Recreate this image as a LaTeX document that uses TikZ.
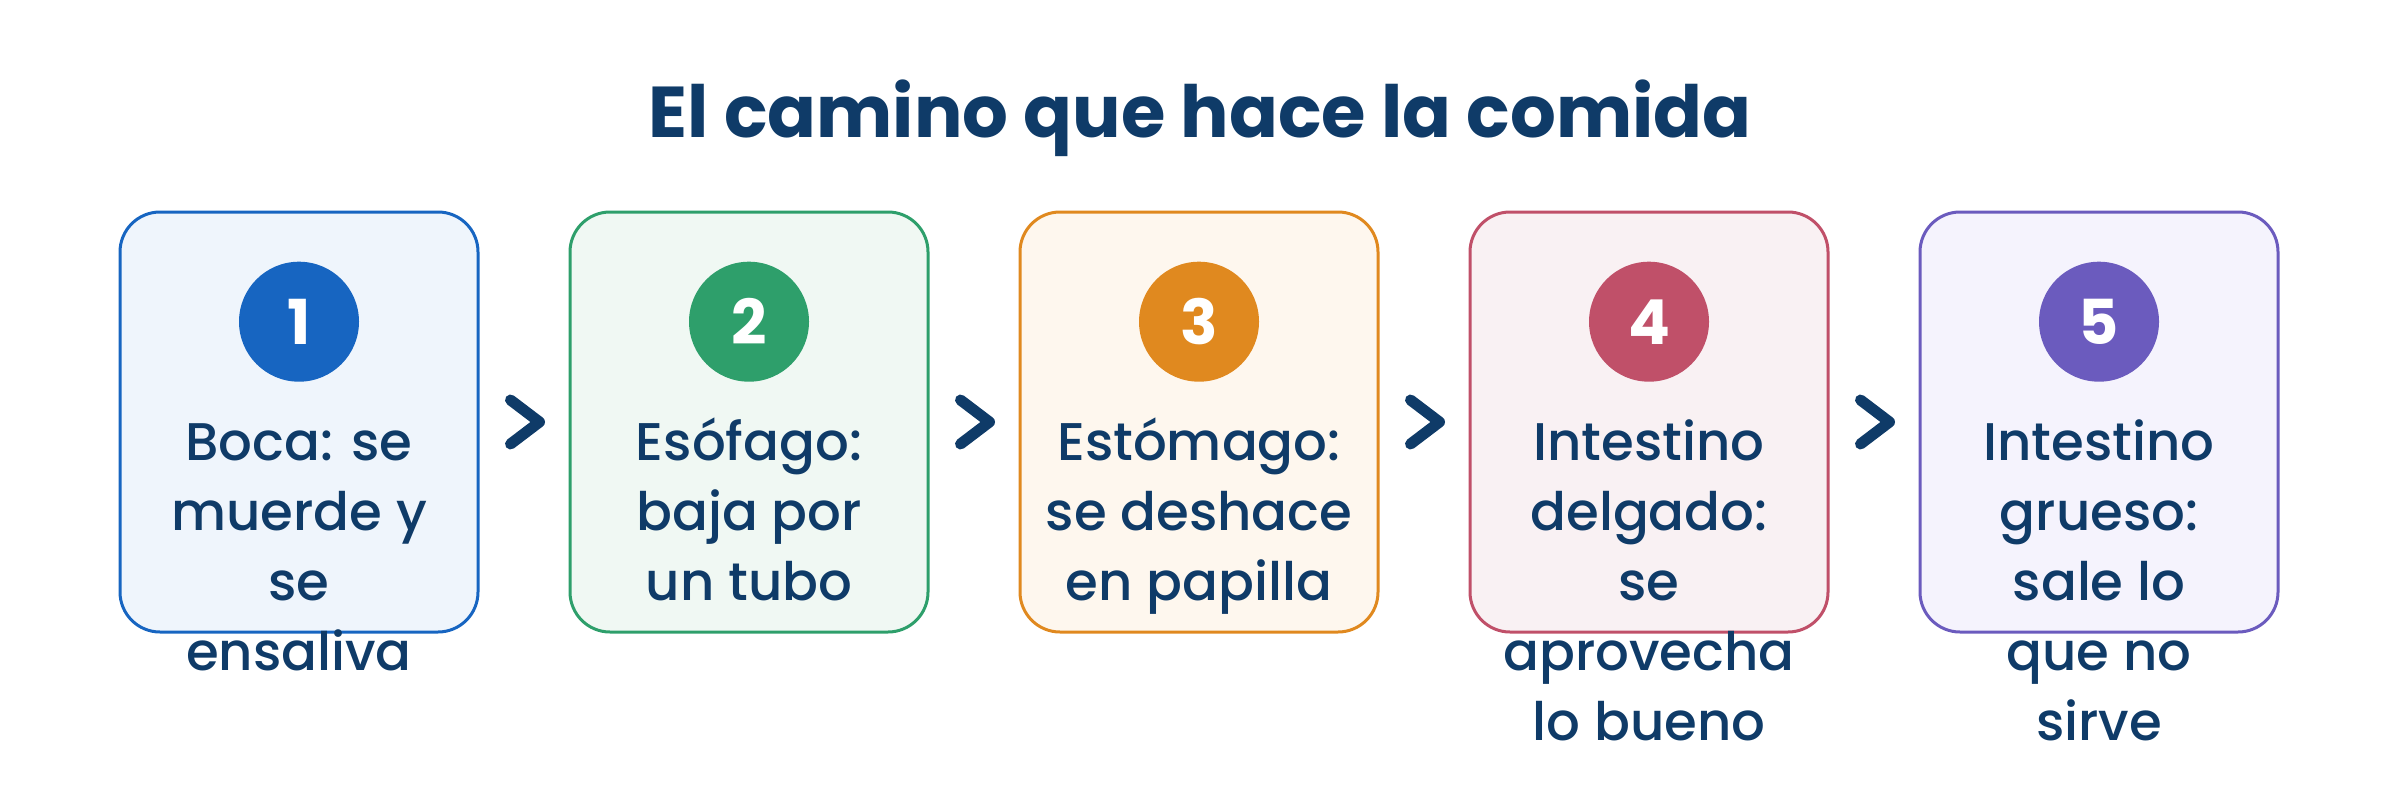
\documentclass[tikz,border=0pt]{standalone}
\usepackage{fontspec}
\setmainfont{Poppins}[UprightFont={* Medium}, BoldFont={* Bold}]
\usetikzlibrary{positioning}

\definecolor{navy}{HTML}{0F3B68}
\definecolor{stepa}{HTML}{1765C1}
\definecolor{stepb}{HTML}{2E9F6B}
\definecolor{stepc}{HTML}{E0891F}
\definecolor{stepd}{HTML}{C05069}
\definecolor{stepe}{HTML}{6B5BBE}
\definecolor{filla}{HTML}{EFF5FC}
\definecolor{fillb}{HTML}{F0F8F3}
\definecolor{fillc}{HTML}{FEF7EE}
\definecolor{filld}{HTML}{F9F1F3}
\definecolor{fille}{HTML}{F5F3FD}

\tikzset{
  card/.style={draw=#1, line width=3pt, rounded corners=40pt, minimum width=358pt, minimum height=420pt, inner sep=0pt},
  badge/.style={circle, fill=#1, minimum size=120pt, inner sep=0pt, text=white, font=\bfseries\fontsize{62}{62}\selectfont},
  label/.style={text=navy, align=center, inner sep=0pt, anchor=north, font=\fontsize{53}{70}\selectfont},
  chev/.style={draw=navy, line width=11pt, line cap=round, line join=round}
}
\newcommand{\topline}{\rule{0pt}{60pt}}

\begin{document}
\begin{tikzpicture}[x=1pt, y=-1pt]
                \useasboundingbox (0,0) rectangle (2400,792);
                \node [text=navy, font=\bfseries\fontsize{72}{72}\selectfont, anchor=base] (title) at (1200,137) {El camino que hace la comida};
                % cards
                \node [card=stepa, fill=filla] (box1) at (299,422) {};
                \node [card=stepb, fill=fillb, right=89pt of box1] (box2) {};
                \node [card=stepc, fill=fillc, right=89pt of box2] (box3) {};
                \node [card=stepd, fill=filld, right=89pt of box3] (box4) {};
                \node [card=stepe, fill=fille, right=89pt of box4] (box5) {};
                % numbers
                \node [badge=stepa, below=51pt of box1.north] (num1) {1};
                \node [badge=stepb, below=51pt of box2.north] (num2) {2};
                \node [badge=stepc, below=51pt of box3.north] (num3) {3};
                \node [badge=stepd, below=51pt of box4.north] (num4) {4};
                \node [badge=stepe, below=51pt of box5.north] (num5) {5};
                % texts (first baseline 250pt under the card top)
                \node [label] (txt1) at ([yshift=-190pt]box1.north) {\topline Boca: se\\muerde y\\se\\ensaliva};
                \node [label] (txt2) at ([yshift=-190pt]box2.north) {\topline Esófago:\\baja por\\un tubo};
                \node [label] (txt3) at ([yshift=-190pt]box3.north) {\topline Estómago:\\se deshace\\en papilla};
                \node [label] (txt4) at ([yshift=-190pt]box4.north) {\topline Intestino\\delgado:\\se\\aprovecha\\lo bueno};
                \node [label] (txt5) at ([yshift=-190pt]box5.north) {\topline Intestino\\grueso:\\sale lo\\que no\\sirve};
                % chevrons
                \draw [chev] ([xshift=31pt, yshift=22pt]box1.east) -- ([xshift=60pt]box1.east) -- ([xshift=31pt, yshift=-22pt]box1.east);
                \draw [chev] ([xshift=31pt, yshift=22pt]box2.east) -- ([xshift=60pt]box2.east) -- ([xshift=31pt, yshift=-22pt]box2.east);
                \draw [chev] ([xshift=31pt, yshift=22pt]box3.east) -- ([xshift=60pt]box3.east) -- ([xshift=31pt, yshift=-22pt]box3.east);
                \draw [chev] ([xshift=31pt, yshift=22pt]box4.east) -- ([xshift=60pt]box4.east) -- ([xshift=31pt, yshift=-22pt]box4.east);
            \end{tikzpicture}
\end{document}
